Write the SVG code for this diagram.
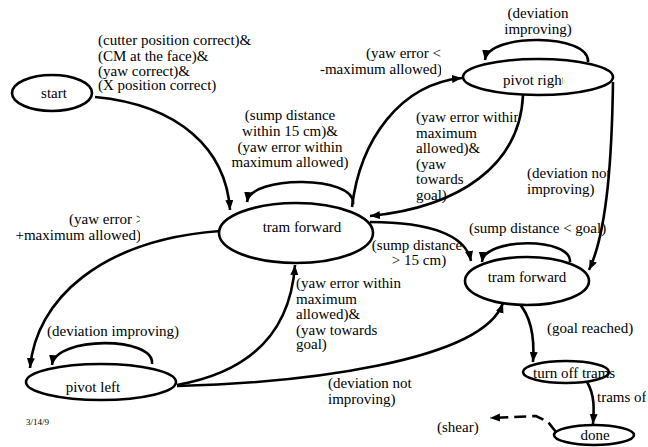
<svg xmlns="http://www.w3.org/2000/svg" width="648" height="447" viewBox="0 0 648 447">
  <style>
    .node { fill: #fff; stroke: #000; stroke-width: 2.6; }
    .edge { fill: none; stroke: #000; stroke-width: 2.6; marker-end: url(#arrow); }
    .dash { fill: none; stroke: #000; stroke-width: 2.6; stroke-dasharray: 12 6; marker-end: url(#arrow); }
    .mid { text-anchor: middle; }
    .end { text-anchor: end; }
  </style>
  <defs>
    <marker id="arrow" markerUnits="userSpaceOnUse" markerWidth="12" markerHeight="10" refX="10" refY="4" orient="auto">
      <path d="M0,0 L10,4 L0,8 Z" fill="#000"/>
    </marker>
    <clipPath id="clipYawLeft"><rect x="0" y="200" width="140" height="50"/></clipPath>
    <clipPath id="clipYawTop"><rect x="300" y="40" width="141" height="40"/></clipPath>
    <clipPath id="clipYawRight"><rect x="400" y="100" width="118" height="110"/></clipPath>
    <clipPath id="clipDevNot"><rect x="500" y="160" width="109" height="40"/></clipPath>
    <clipPath id="clipPivotRight"><rect x="480" y="60" width="83" height="35"/></clipPath>
    <clipPath id="clipTramsOff"><rect x="590" y="385" width="56" height="25"/></clipPath>
  </defs>

  <!-- transitions -->
  <g id="connectors">
    <path class="edge" d="M95,97 C180,105 226,150 230,210"/>
    <path class="edge" d="M352,207 C360,140 400,84 462,78"/>
    <path class="edge" d="M523,95 C520,165 460,207 370,216"/>
    <path class="edge" d="M613,82 C612,150 608,230 589,270"/>
    <path class="edge" d="M370,222 C432,222 466,236 471,261"/>
    <path class="edge" d="M220,231 C100,240 36,300 30,368"/>
    <path class="edge" d="M177,385 C262,370 291,322 295,265"/>
    <path class="edge" d="M177,386 C300,383 482,362 503,303"/>
    <path class="edge" d="M518,302 C530,315 535,335 533,362"/>
    <path class="edge" d="M587,382 C595,395 594,410 593,424"/>
    <path class="dash" d="M556,432 L548,422 L536,416 L490,418"/>
    <!-- self loops -->
    <path class="edge" d="M353,204 C356,175 250,175 247,202"/>
    <path class="edge" d="M588,62 C590,33 488,33 485,60"/>
    <path class="edge" d="M570,262 C572,237 484,237 482,262"/>
    <path class="edge" d="M152,364 C155,336 55,336 52,365"/>
  </g>

  <g font-family="Liberation Serif, serif" font-size="15" fill="#000">
  <!-- states -->
  <g id="start">
    <ellipse class="node" cx="52" cy="93" rx="40" ry="18"/>
    <text x="54" y="98" class="mid">start</text>
  </g>
  <g id="pivot-right">
    <ellipse class="node" cx="538" cy="77" rx="75" ry="18"/>
    <text x="503" y="85" clip-path="url(#clipPivotRight)">pivot right</text>
  </g>
  <g id="tram-forward-1">
    <ellipse class="node" cx="296" cy="233" rx="77" ry="30"/>
    <text x="302" y="232" class="mid">tram forward</text>
  </g>
  <g id="tram-forward-2">
    <ellipse class="node" cx="527" cy="281" rx="62" ry="24"/>
    <text x="527" y="282" class="mid">tram forward</text>
  </g>
  <g id="pivot-left">
    <ellipse class="node" cx="101" cy="382" rx="75" ry="18"/>
    <text x="93" y="392" class="mid">pivot left</text>
  </g>
  <g id="turn-off-trams">
    <ellipse class="node" cx="566" cy="372" rx="43" ry="11"/>
    <text x="533" y="378">turn off trams</text>
  </g>
  <g id="done">
    <ellipse class="node" cx="594" cy="435" rx="40" ry="10"/>
    <text x="595" y="440" class="mid">done</text>
  </g>

  <!-- transition labels -->
  <g id="labels">
    <text x="98" y="45">(cutter position correct)&amp;</text>
    <text x="98" y="61">(CM at the face)&amp;</text>
    <text x="98" y="76">(yaw correct)&amp;</text>
    <text x="98" y="90">(X position correct)</text>

    <g clip-path="url(#clipYawTop)">
      <text x="441" y="58" class="end">(yaw error &lt;</text>
      <text x="442" y="74" class="end">-maximum allowed)</text>
    </g>

    <text x="538" y="18" class="mid">(deviation</text>
    <text x="538" y="34" class="mid">improving)</text>

    <text x="290" y="120" class="mid">(sump distance</text>
    <text x="290" y="136" class="mid">within 15 cm)&amp;</text>
    <text x="290" y="152" class="mid">(yaw error within</text>
    <text x="290" y="167" class="mid">maximum allowed)</text>

    <g clip-path="url(#clipYawRight)">
      <text x="416" y="122">(yaw error within</text>
      <text x="416" y="138">maximum</text>
      <text x="416" y="153">allowed)&amp;</text>
      <text x="416" y="169">(yaw</text>
      <text x="416" y="184">towards</text>
      <text x="416" y="200">goal)</text>
    </g>

    <g clip-path="url(#clipDevNot)">
      <text x="527" y="178">(deviation not</text>
      <text x="527" y="194">improving)</text>
    </g>

    <text x="469" y="233">(sump distance &lt; goal)</text>

    <text x="417" y="250" class="mid">(sump distance</text>
    <text x="419" y="265" class="mid">&gt; 15 cm)</text>

    <g clip-path="url(#clipYawLeft)">
      <text x="69" y="224">(yaw error &gt;</text>
      <text x="141" y="240" class="end">+maximum allowed)</text>
    </g>

    <text x="296" y="288">(yaw error within</text>
    <text x="296" y="304">maximum</text>
    <text x="296" y="319">allowed)&amp;</text>
    <text x="296" y="335">(yaw towards</text>
    <text x="296" y="349">goal)</text>

    <text x="47" y="336">(deviation improving)</text>

    <text x="328" y="388">(deviation not</text>
    <text x="328" y="404">improving)</text>

    <text x="547" y="333">(goal reached)</text>

    <text x="597" y="402" clip-path="url(#clipTramsOff)">trams off</text>

    <text x="437" y="432">(shear)</text>

    <text x="26" y="425" font-size="9">3/14/9</text>
  </g>
  </g>
</svg>
